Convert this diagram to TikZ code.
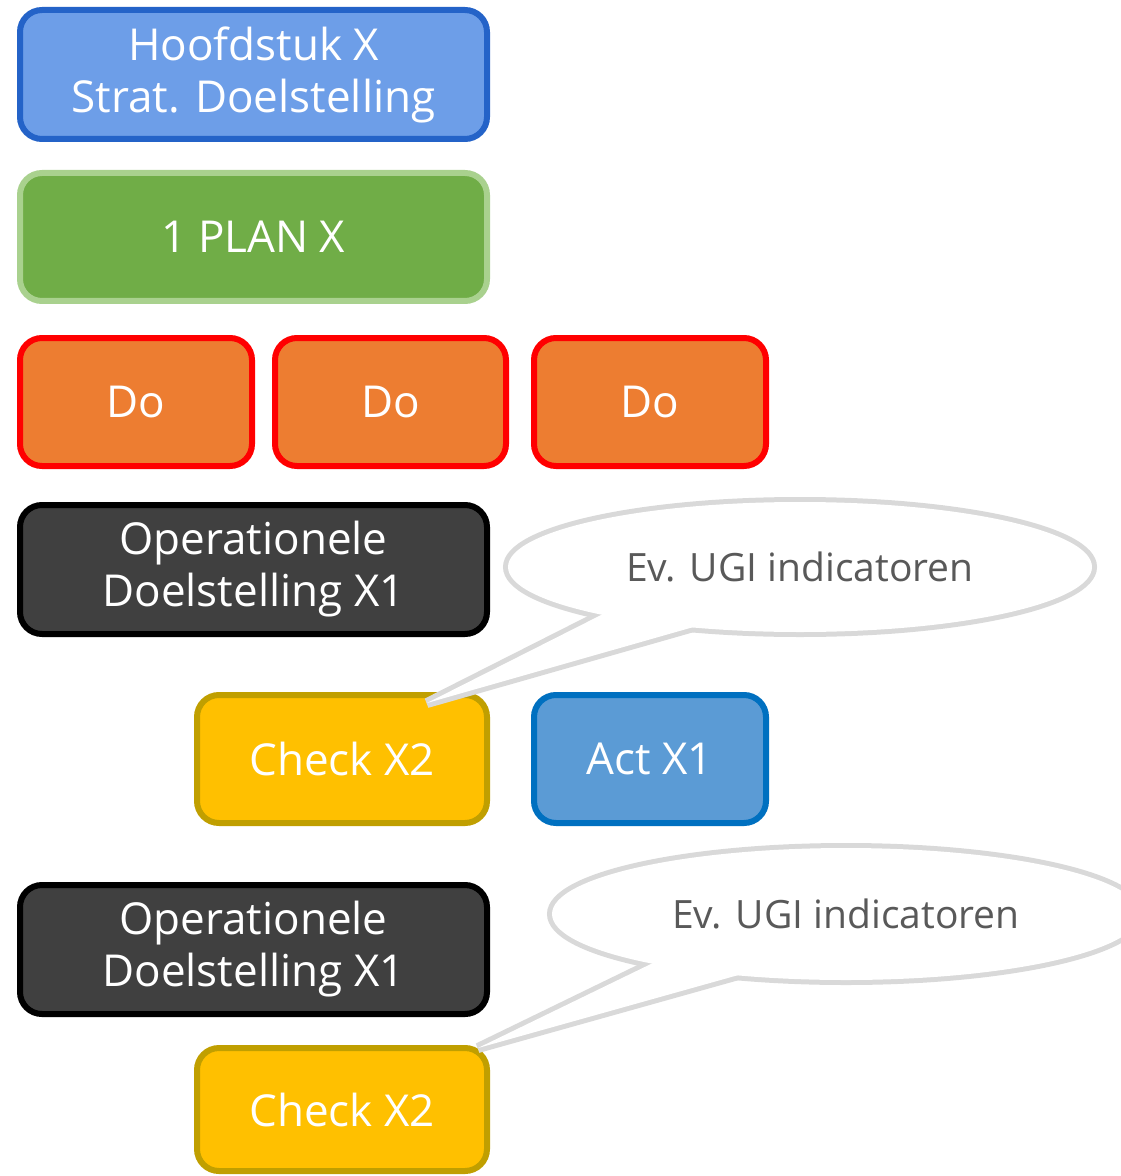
\documentclass[tikz,border=0pt]{standalone}
\usepackage{fontspec}
\setmainfont{Open Sans}
\usetikzlibrary{shapes.geometric}
\definecolor{hbfill}{HTML}{6D9EE8}
\definecolor{hbdraw}{HTML}{2463C8}
\definecolor{plfill}{HTML}{70AD47}
\definecolor{pldraw}{HTML}{A9D18E}
\definecolor{dofill}{HTML}{ED7D31}
\definecolor{dodraw}{HTML}{FF0000}
\definecolor{opfill}{HTML}{404040}
\definecolor{opdraw}{HTML}{000000}
\definecolor{chfill}{HTML}{FFC000}
\definecolor{chdraw}{HTML}{C09F00}
\definecolor{acfill}{HTML}{5B9BD5}
\definecolor{acdraw}{HTML}{0070C0}
\definecolor{clline}{HTML}{D9D9D9}
\definecolor{cltext}{HTML}{595959}
\tikzset{
  boxbase/.style={rectangle, rounded corners=11pt, line width=3pt, text=white,
    font=\fontsize{22}{26}\selectfont, align=center, inner sep=0pt},
  hbbox/.style={boxbase, fill=hbfill, draw=hbdraw},
  plbox/.style={boxbase, fill=plfill, draw=pldraw},
  dobox/.style={boxbase, fill=dofill, draw=dodraw},
  opbox/.style={boxbase, fill=opfill, draw=opdraw},
  chbox/.style={boxbase, fill=chfill, draw=chdraw},
  acbox/.style={boxbase, fill=acfill, draw=acdraw},
  clstroke/.style={draw=clline, fill=white, line width=5pt, line join=miter},
  clfill/.style={fill=white},
  cltxt/.style={text=cltext, font=\fontsize{19.5}{23}\selectfont, inner sep=0pt}
}
\newcommand{\mybox}[7]{%
  \node[#6, minimum width={(#4-#2-6)*0.5pt}, minimum height={(#5-#3-6)*0.5pt}]
    (#1) at ({(#2+#4)/2},{(#3+#5)/2}) {#7};}
\begin{document}
\begin{tikzpicture}[x=0.5pt,y=-0.5pt]
\useasboundingbox (0,0) rectangle (1120,1176);
\mybox{hb}{17}{7}{490}{142}{hbbox}{Hoofdstuk X\\Strat. Doelstelling}
\mybox{pl}{17}{170}{490}{304}{plbox}{1 PLAN X}
\mybox{doa}{17}{335}{255}{469}{dobox}{Do}
\mybox{dob}{272}{335}{509}{469}{dobox}{Do}
\mybox{doc}{531}{335}{769}{469}{dobox}{Do}
\mybox{opa}{17}{502}{490}{637}{opbox}{Operationele\\Doelstelling X1}
\mybox{cha}{194}{692}{490}{826}{chbox}{Check X2}
\mybox{aca}{531}{692}{769}{826}{acbox}{Act X1}
\mybox{opb}{17}{882}{490}{1017}{opbox}{Operationele\\Doelstelling X1}
\mybox{chb}{194}{1045}{490}{1174}{chbox}{Check X2}
% callout 1
\coordinate (tipa) at (427,703);
\path[clstroke] (800,567) ellipse [x radius=292, y radius=65];
\path[clstroke] (607,612) -- (tipa) -- (697,626) -- cycle;
\path[clfill] (800,567) ellipse [x radius=292, y radius=65];
\path[clfill] (607,612) -- (tipa) -- (697,626) -- cycle;
\node[cltxt] (cla) at (800,567) {Ev. UGI indicatoren};
% callout 2
\coordinate (tipb) at (478,1048);
\path[clstroke] (846,914) ellipse [x radius=294, y radius=66];
\path[clstroke] (655,962) -- (tipb) -- (742,974) -- cycle;
\path[clfill] (846,914) ellipse [x radius=294, y radius=66];
\path[clfill] (655,962) -- (tipb) -- (742,974) -- cycle;
\node[cltxt] (clb) at (846,914) {Ev. UGI indicatoren};
\end{tikzpicture}
\end{document}
